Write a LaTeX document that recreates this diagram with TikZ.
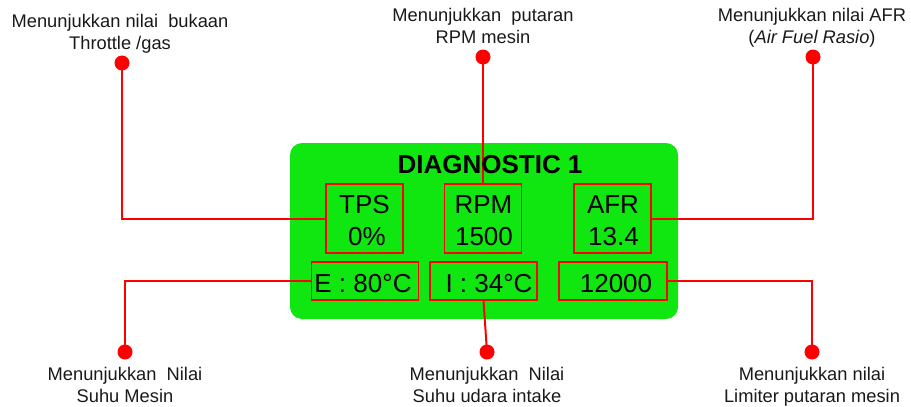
\documentclass[tikz,border=0pt]{standalone}
\usepackage{fontspec}
\setmainfont{Liberation Sans}
\definecolor{panelgreen}{RGB}{16,230,16}
\definecolor{leadred}{RGB}{255,0,0}
\begin{document}
\begin{tikzpicture}[x=1pt,y=-1pt,
  panel/.style={fill=panelgreen, rounded corners=12pt, minimum width=388pt,
    minimum height=176pt, inner sep=0pt},
  readout/.style={draw=leadred, line width=1.3pt, inner sep=0pt},
  readtext/.style={font=\fontsize{26}{32}\selectfont, anchor=base, inner sep=0pt},
  note/.style={font=\fontsize{18.3}{22}\selectfont, align=center, anchor=base,
    inner sep=0pt, text=black!90},
  lead/.style={draw=leadred, line width=2pt},
  pin/.style={circle, fill=leadred, minimum size=15pt, inner sep=0pt}
]
\useasboundingbox (0,0) rectangle (911,407);

% display panel
\node[panel] (panel) at (484,231) {};

% readout frames
\node[readout, minimum width=77pt, minimum height=69pt] (tps) at (364.5,218.5) {};
\node[readout, minimum width=77pt, minimum height=69pt] (rpm) at (483,218.5) {};
\node[readout, minimum width=77pt, minimum height=69pt] (afr) at (612.5,218.5) {};
\node[readout, minimum width=107pt, minimum height=38pt] (eng) at (365,281) {};
\node[readout, minimum width=107pt, minimum height=38pt] (air) at (483.5,281) {};
\node[readout, minimum width=108pt, minimum height=38pt] (lim) at (613,281) {};

% callout pins
\node[pin] (p1) at (122,63) {};
\node[pin] (p2) at (483,57) {};
\node[pin] (p3) at (813,57) {};
\node[pin] (p4) at (125,352) {};
\node[pin] (p5) at (487,352) {};
\node[pin] (p6) at (812,352) {};

% leader lines
\draw[lead] (p1.center) |- (tps.west);
\draw[lead] (p2.center) -- (rpm.north);
\draw[lead] (p3.center) |- (afr.east);
\draw[lead] (p4.center) |- (eng.west);
\draw[lead] (air.south) -- (p5.center);
\draw[lead] (p6.center) |- (lim.east);

% title and readout values
\node[readtext, font=\fontsize{26}{32}\selectfont\bfseries] (title) at (490,173) {DIAGNOSTIC 1};
\node[readtext] (tpsa) at (364.5,213) {TPS};
\node[readtext] (tpsb) at (367,245) {0\%};
\node[readtext] (rpma) at (483.5,213) {RPM};
\node[readtext] (rpmb) at (484,245) {1500};
\node[readtext] (afra) at (613,213) {AFR};
\node[readtext] (afrb) at (613.5,245) {13.4};
\node[readtext] (engv) at (363,292) {E : 80°C};
\node[readtext] (airv) at (489,292) {I : 34°C};
\node[readtext] (limv) at (616,292) {12000};

% callout texts (base anchor sits on the last line)
\node[note] (n1) at (120,49) {Menunjukkan nilai~ bukaan\\Throttle /gas};
\node[note] (n2) at (483,43) {Menunjukkan~ putaran\\RPM mesin};
\node[note] (n3) at (812,43) {Menunjukkan nilai AFR\\(\textit{Air Fuel Rasio})};
\node[note] (n4) at (125,402) {Menunjukkan~ Nilai\\Suhu Mesin};
\node[note] (n5) at (487,402) {Menunjukkan~ Nilai\\Suhu udara intake};
\node[note] (n6) at (812,402) {Menunjukkan nilai\\Limiter putaran mesin};
\end{tikzpicture}
\end{document}
